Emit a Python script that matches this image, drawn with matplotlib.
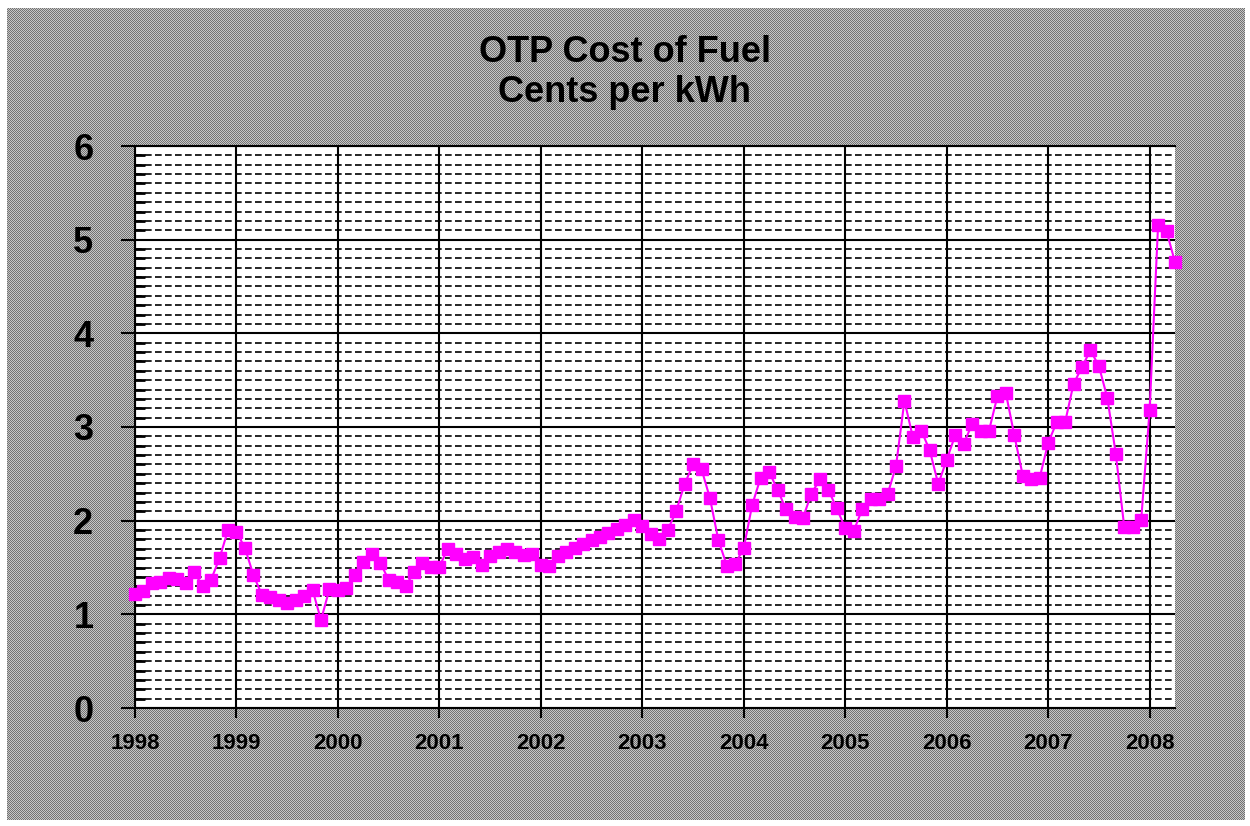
import numpy as np
import matplotlib.pyplot as plt
from matplotlib.ticker import MultipleLocator

# monthly fuel cost, cents per kWh, Jan 1998 .. Apr 2008
cost = [
    1.22, 1.25, 1.33, 1.35, 1.39, 1.38, 1.33, 1.45, 1.30, 1.37, 1.60, 1.90,  # 1998
    1.88, 1.71, 1.42, 1.21, 1.18, 1.15, 1.12, 1.15, 1.20, 1.26, 0.94, 1.27,  # 1999
    1.26, 1.28, 1.42, 1.56, 1.64, 1.55, 1.37, 1.34, 1.30, 1.45, 1.55, 1.51,  # 2000
    1.51, 1.70, 1.64, 1.59, 1.61, 1.53, 1.62, 1.67, 1.70, 1.67, 1.63, 1.64,  # 2001
    1.53, 1.52, 1.62, 1.67, 1.71, 1.75, 1.79, 1.83, 1.87, 1.91, 1.95, 2.01,  # 2002
    1.94, 1.86, 1.80, 1.90, 2.10, 2.39, 2.60, 2.55, 2.24, 1.79, 1.52, 1.54,  # 2003
    1.71, 2.17, 2.46, 2.52, 2.33, 2.12, 2.04, 2.03, 2.29, 2.44, 2.33, 2.13,  # 2004
    1.92, 1.89, 2.12, 2.23, 2.23, 2.28, 2.58, 3.28, 2.89, 2.96, 2.75, 2.39,  # 2005
    2.65, 2.91, 2.82, 3.03, 2.96, 2.96, 3.33, 3.36, 2.91, 2.48, 2.45, 2.46,  # 2006
    2.83, 3.05, 3.05, 3.46, 3.64, 3.82, 3.65, 3.31, 2.71, 1.93, 1.93, 2.01,  # 2007
    3.18, 5.16, 5.09, 4.76,                                                  # 2008
]
start_year = 1998
year_ticks = list(range(1998, 2009))

months = start_year + np.arange(len(cost)) / 12

plt.rcParams['font.family'] = ['Liberation Sans', 'DejaVu Sans']

W, H = 1250, 826
fig = plt.figure(figsize=(W / 100, H / 100), dpi=100)
fig.patch.set_facecolor('white')

# checkered gray chart area, like the old Excel fill
bg = np.ones((H, W, 3))
yy, xx = np.mgrid[0:H, 0:W]
checker = np.where((xx + yy) % 2 == 0, 0.45, 0.78)
inside = (xx >= 7) & (xx < 1245) & (yy >= 8) & (yy < 820)
bg[inside] = checker[inside][:, None]
fig.figimage(bg, 0, 0, origin='upper', zorder=0)

ax = fig.add_axes([135 / W, 1 - 708 / H, (1175 - 135) / W, (708 - 146) / H])
ax.set_zorder(2)
ax.set_facecolor('white')

ax.plot(months, cost, color='#ff00ff', lw=1.5, marker='s', ms=9,
        mec='#ff00ff', mfc='#ff00ff', zorder=3, clip_on=False)

ax.set_xlim(1998, 2008.25)
ax.set_ylim(0, 6)
ax.set_xticks(year_ticks)
ax.set_xticklabels([str(y) for y in year_ticks])
ax.yaxis.set_major_locator(MultipleLocator(1))
ax.yaxis.set_minor_locator(MultipleLocator(0.1))

ax.set_axisbelow(True)
ax.grid(which='major', axis='both', color='black', lw=1.5)
ax.grid(which='minor', axis='y', color='black', lw=1.2, linestyle=(0, (4, 2)))

ax.tick_params(axis='y', which='major', direction='out', length=10, width=1.5,
               pad=20, labelsize=26)
ax.tick_params(axis='y', which='minor', direction='in', length=7, width=2)
ax.tick_params(axis='x', which='major', direction='out', length=7, width=1.5,
               pad=11, labelsize=16)
for lab in ax.get_xticklabels() + ax.get_yticklabels():
    lab.set_fontweight('bold')

for side in ['left', 'bottom', 'top']:
    ax.spines[side].set_color('black')
    ax.spines[side].set_linewidth(1.5)
ax.spines['right'].set_visible(False)

fig.text(0.5, 1 - 62 / H, 'OTP Cost of Fuel', ha='center', va='baseline',
         fontsize=26, fontweight='bold', zorder=3)
fig.text(0.5, 1 - 102 / H, 'Cents per kWh', ha='center', va='baseline',
         fontsize=26, fontweight='bold', zorder=3)

fig.savefig('out.png', dpi=100)
